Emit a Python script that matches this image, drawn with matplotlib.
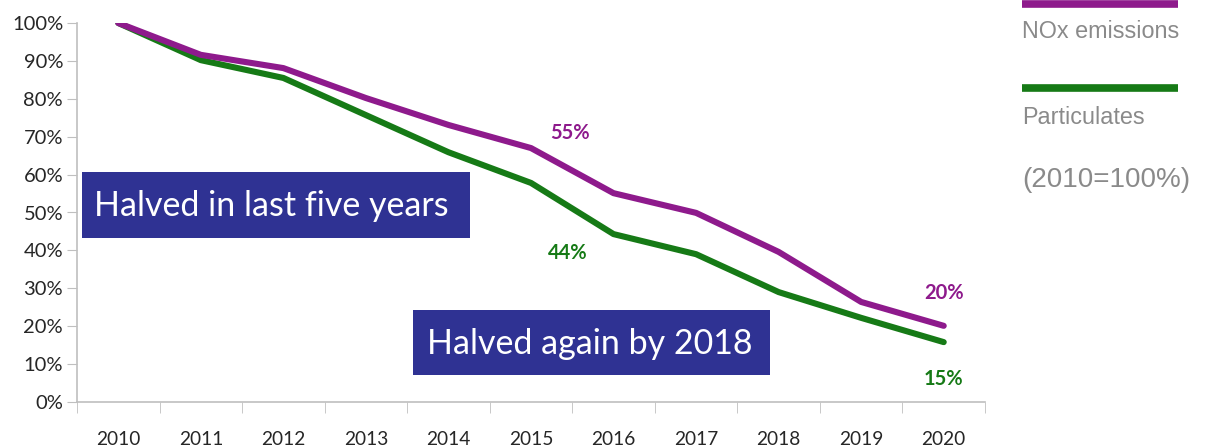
import matplotlib
matplotlib.use("Agg")
import matplotlib.pyplot as plt
from matplotlib.lines import Line2D
from matplotlib.ticker import FixedLocator, PercentFormatter

years = ["2010", "2011", "2012", "2013", "2014", "2015", "2016", "2017", "2018", "2019", "2020"]
nox = [100, 91.6, 88.1, 80.2, 73.1, 67.0, 55.1, 49.9, 39.6, 26.4, 20.1]
particulates = [100, 90.2, 85.5, 75.7, 65.9, 57.8, 44.3, 39.0, 29.0, 22.2, 15.8]
series_names = ["NOx emissions", "Particulates"]
yticks = list(range(0, 101, 10))

PURPLE = "#8E1A8C"
GREEN = "#167A16"
BOX = "#2F3293"
GRAY = "#8A8A8A"

W, H = 1207, 448
fig = plt.figure(figsize=(W / 100, H / 100), dpi=100)
ax = fig.add_axes([77 / W, 1 - 402 / H, (985 - 77) / W, (402 - 23) / H])

x = list(range(len(years)))
ax.plot(x, nox, color=PURPLE, lw=4.4, solid_capstyle="round", solid_joinstyle="round", zorder=3)
ax.plot(x, particulates, color=GREEN, lw=4.4, solid_capstyle="round", solid_joinstyle="round", zorder=2)

ax.set_xlim(-0.5, len(years) - 0.5)
ax.set_ylim(0, 100)
ax.set_yticks(yticks)
ax.yaxis.set_major_formatter(PercentFormatter(decimals=0))
ax.set_xticks(x)
ax.set_xticklabels(years)
ax.xaxis.set_minor_locator(FixedLocator([i - 0.5 for i in range(len(years) + 1)]))

for s in ["top", "right"]:
    ax.spines[s].set_visible(False)
for s in ["left", "bottom"]:
    ax.spines[s].set_color("#BFBFBF")
    ax.spines[s].set_linewidth(1.2)

lab_font = "Lato"
ax.tick_params(axis="y", direction="out", length=7, color="#BFBFBF", labelsize=14.5,
               labelcolor="#262626", pad=3)
ax.tick_params(axis="x", which="major", length=0, labelsize=13.8, labelcolor="#262626", pad=21)
ax.tick_params(axis="x", which="minor", direction="out", length=8, color="#BFBFBF")
for lbl in ax.get_xticklabels() + ax.get_yticklabels():
    lbl.set_fontfamily(lab_font)

# value annotations
kw = dict(fontsize=14.5, fontweight="bold", ha="center", va="center", family=lab_font)
ax.text(5.47, 71.0, "55%", color=PURPLE, **kw)
ax.text(5.45, 39.3, "44%", color=GREEN, **kw)
ax.text(10.0, 28.8, "20%", color=PURPLE, **kw)
ax.text(10.0, 6.0, "15%", color=GREEN, **kw)

# text boxes (figure coordinates)
def fbox(x0, y0, x1, y1, text, tx):
    fig.patches.append(plt.Rectangle((x0 / W, 1 - y1 / H), (x1 - x0) / W, (y1 - y0) / H,
                                     transform=fig.transFigure, facecolor=BOX, edgecolor="none", zorder=5))
    fig.text(tx / W, 1 - ((y0 + y1) / 2 + 1) / H, text, color="white", fontsize=24.5,
             family=lab_font, ha="left", va="center", zorder=6)

fbox(82, 172, 470, 238, "Halved in last five years", 94)
fbox(413, 310, 770, 375, "Halved again by 2018", 427)

# legend on the right
fig.add_artist(Line2D([1022 / W, 1178 / W], [1 - 4 / H, 1 - 4 / H], color=PURPLE, lw=5.5,
                      solid_capstyle="butt", transform=fig.transFigure))
fig.text(1022 / W, 1 - 32 / H, series_names[0], color=GRAY, fontsize=16.8, family="Liberation Sans",
         ha="left", va="center")
fig.add_artist(Line2D([1022 / W, 1178 / W], [1 - 88 / H, 1 - 88 / H], color=GREEN, lw=5.5,
                      solid_capstyle="butt", transform=fig.transFigure))
fig.text(1022 / W, 1 - 117 / H, series_names[1], color=GRAY, fontsize=16.8, family="Liberation Sans",
         ha="left", va="center")
fig.text(1022 / W, 1 - 180 / H, "(2010=100%)", color=GRAY, fontsize=20, family="Liberation Sans",
         ha="left", va="center")

fig.savefig("out.png", dpi=100, facecolor="white")
